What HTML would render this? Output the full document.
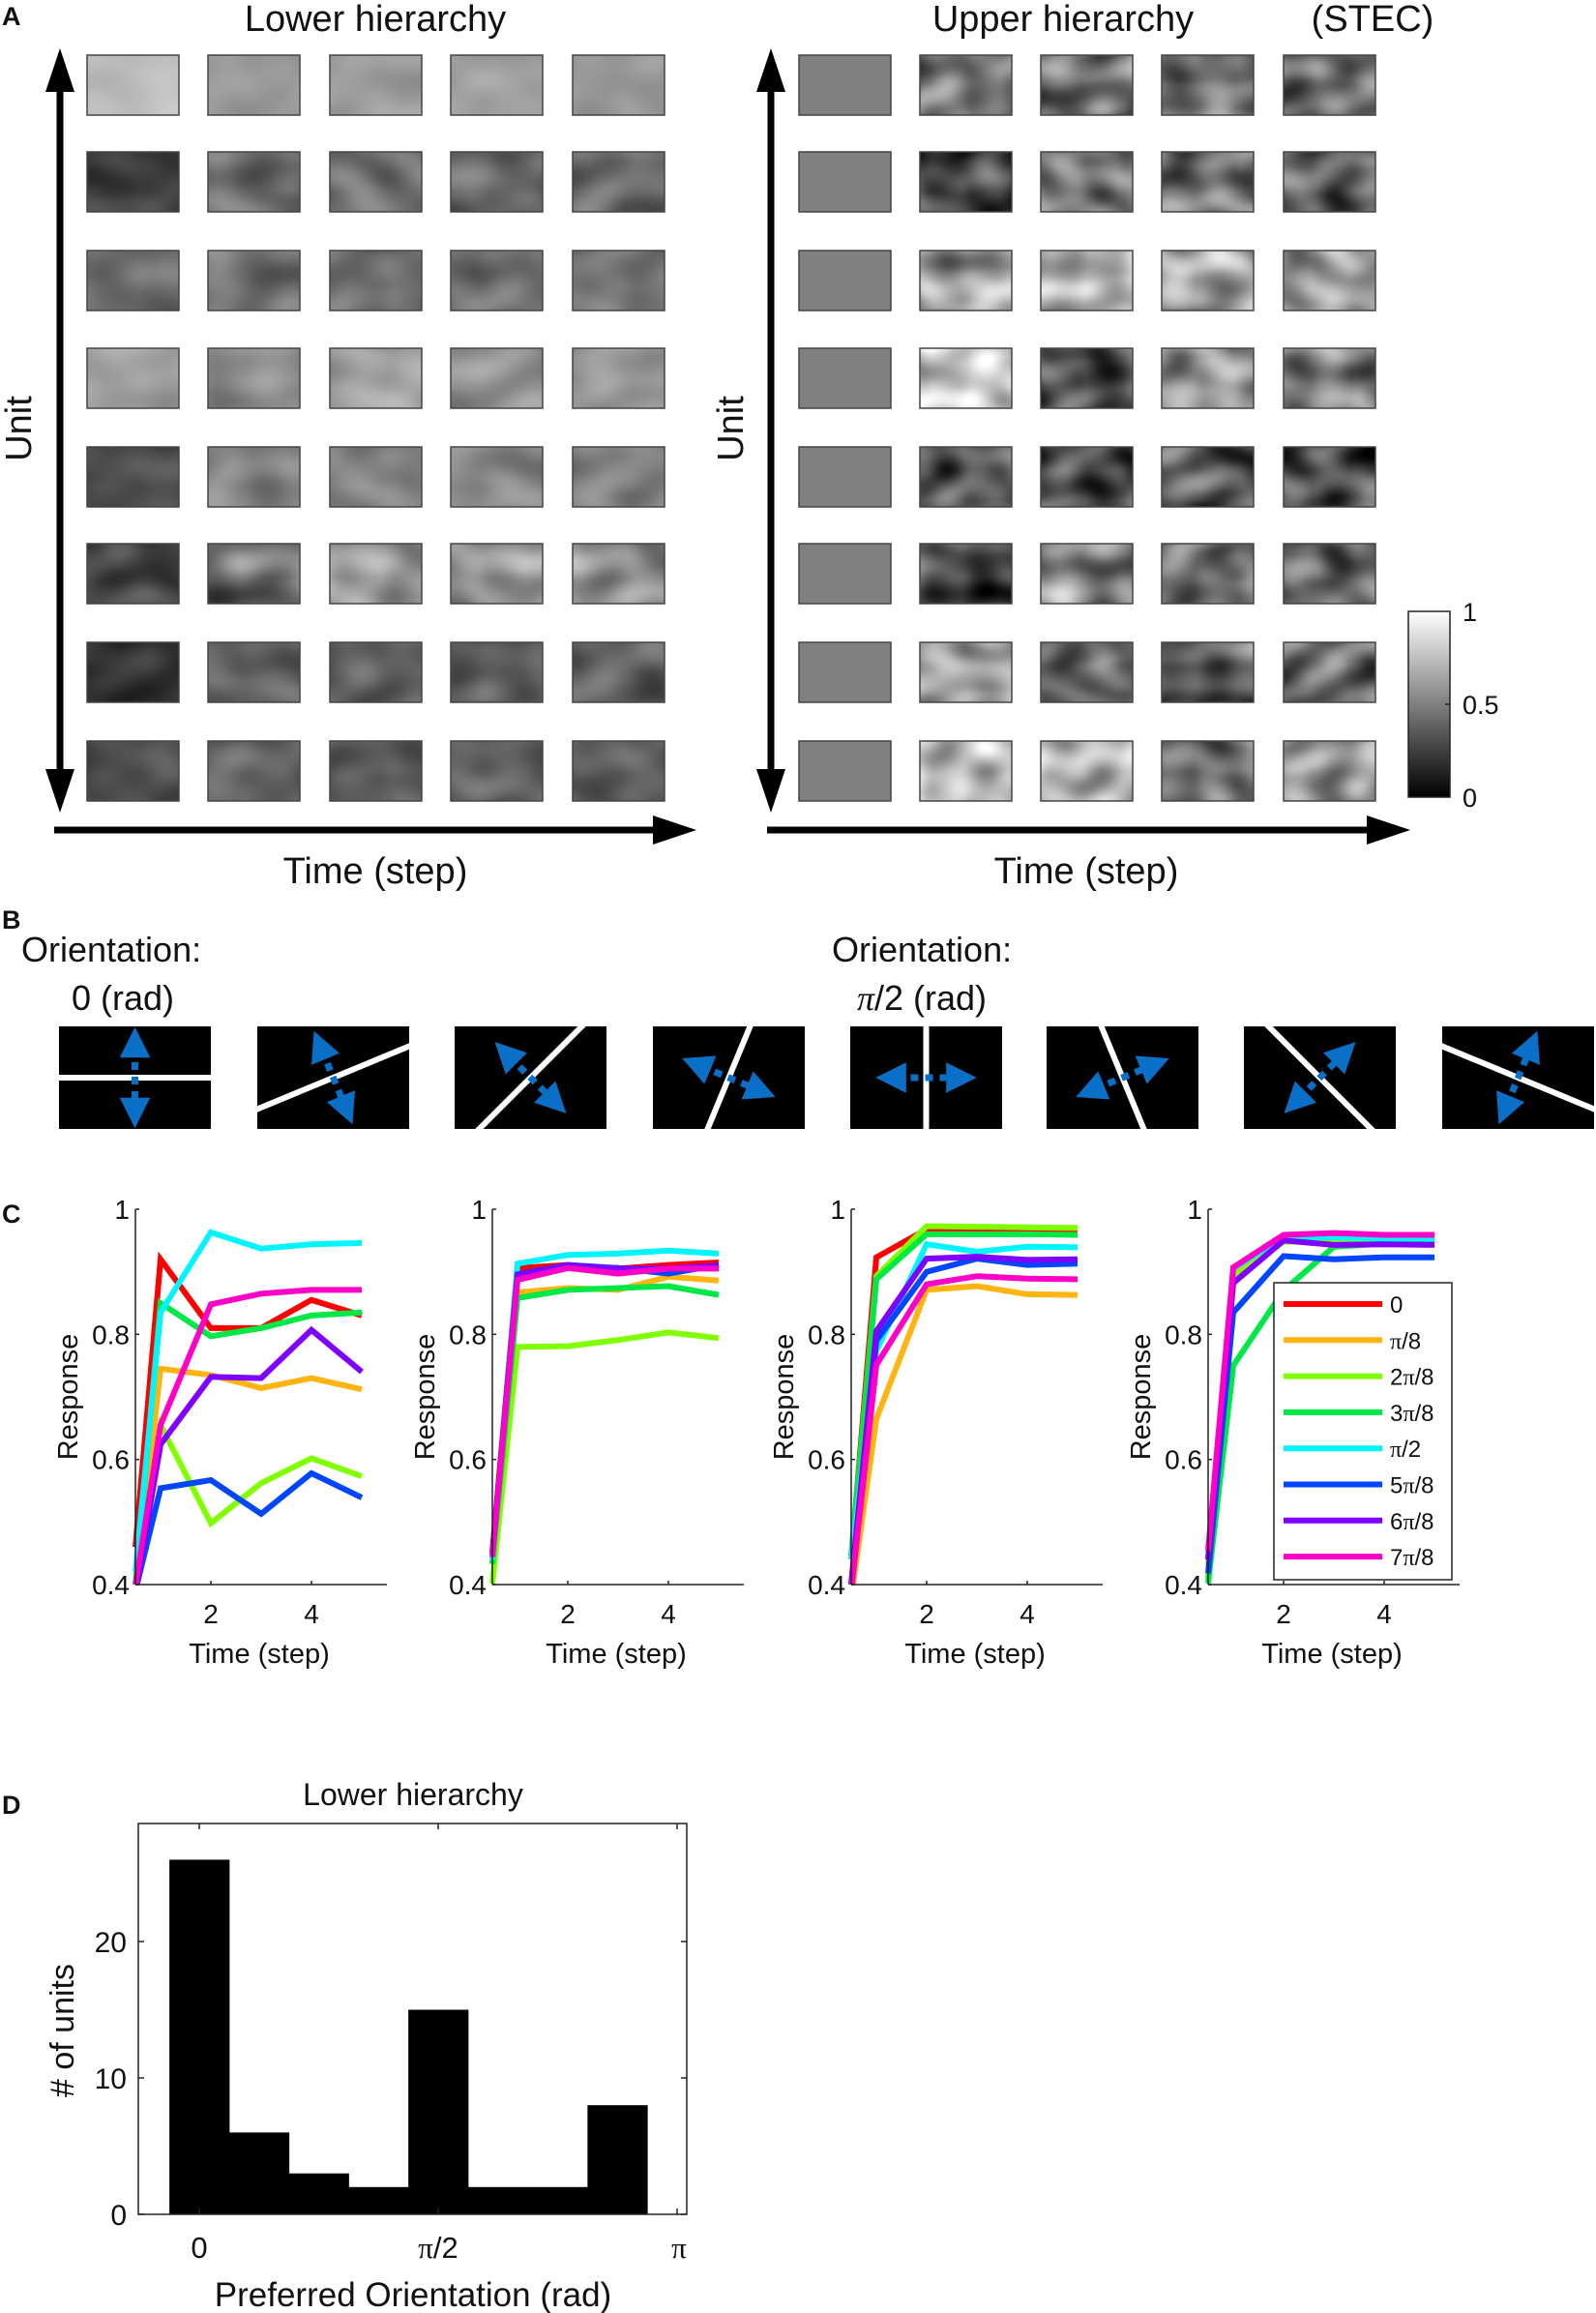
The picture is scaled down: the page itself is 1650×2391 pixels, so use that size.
<!DOCTYPE html>
<html><head><meta charset="utf-8">
<style>
html,body{margin:0;padding:0;background:#fff;}
svg{display:block;}
text{font-family:"Liberation Sans",sans-serif;fill:#111;}
.pi{font-family:"Liberation Serif",serif;}
</style></head>
<body>
<svg id="fig" width="1650" height="2391" viewBox="0 0 1650 2391" xmlns="http://www.w3.org/2000/svg">
<defs id="defs">
  <linearGradient id="cbar" x1="0" y1="1" x2="0" y2="0">
    <stop offset="0" stop-color="#000"/><stop offset="1" stop-color="#fff"/>
  </linearGradient>
  <marker id="ahead" viewBox="0 0 10 10" refX="2" refY="5" markerWidth="4.5" markerHeight="4.5" orient="auto-start-reverse" markerUnits="strokeWidth">
    <path d="M0,0 L10,5 L0,10 z" fill="#0a6fc6"/>
  </marker>
</defs>

<!-- Panel A -->
<text x="2" y="26" font-size="27" font-weight="bold">A</text>
<text x="388" y="32" font-size="38" text-anchor="middle">Lower hierarchy</text>
<text x="1099" y="32" font-size="38" text-anchor="middle">Upper hierarchy</text>
<text x="1419" y="32" font-size="38" text-anchor="middle">(STEC)</text>
<g id="tilesLower"></g>
<g id="tilesUpper"></g>

<g>
  <line x1="62" y1="90" x2="62" y2="800" stroke="#000" stroke-width="7"/>
  <polygon points="62,50 47,95 77,95" fill="#000"/>
  <polygon points="62,840 47,795 77,795" fill="#000"/>
</g>
<g>
  <line x1="56" y1="858" x2="680" y2="858" stroke="#000" stroke-width="7"/>
  <polygon points="720,858 675,843 675,873" fill="#000"/>
</g>
<g>
  <line x1="797" y1="90" x2="797" y2="800" stroke="#000" stroke-width="7"/>
  <polygon points="797,50 782,95 812,95" fill="#000"/>
  <polygon points="797,840 782,795 812,795" fill="#000"/>
</g>
<g>
  <line x1="793" y1="858" x2="1418" y2="858" stroke="#000" stroke-width="7"/>
  <polygon points="1458,858 1413,843 1413,873" fill="#000"/>
</g>
<text transform="translate(32,443) rotate(-90)" font-size="38" text-anchor="middle">Unit</text>
<text transform="translate(768,443) rotate(-90)" font-size="38" text-anchor="middle">Unit</text>
<text x="388" y="913" font-size="38" text-anchor="middle">Time (step)</text>
<text x="1123" y="913" font-size="38" text-anchor="middle">Time (step)</text>
<g>
  <rect x="1456" y="632" width="43" height="192" fill="url(#cbar)" stroke="#222" stroke-width="1.5"/>
  <line x1="1494" y1="728" x2="1499" y2="728" stroke="#222" stroke-width="1.5"/>
  <text x="1512" y="642" font-size="27">1</text>
  <text x="1512" y="738" font-size="27">0.5</text>
  <text x="1512" y="834" font-size="27">0</text>
</g>

<!-- Panel B -->
<text x="2" y="960" font-size="27" font-weight="bold">B</text>
<text x="22" y="994" font-size="36">Orientation:</text>
<text x="127" y="1044" font-size="36" text-anchor="middle">0 (rad)</text>
<text x="860" y="994" font-size="36">Orientation:</text>
<text x="953" y="1044" font-size="36" text-anchor="middle"><tspan class="pi" font-style="italic">π</tspan>/2 (rad)</text>
<g id="stimuli"></g>

<!-- Panel C -->
<text x="2" y="1264" font-size="27" font-weight="bold">C</text>
<g id="panelC"></g>

<!-- Panel D -->
<text x="2" y="1875" font-size="27" font-weight="bold">D</text>
<g id="panelD"></g>
</svg>

<script>
// ---------- Panel C data ----------
const timeSteps = [0.5, 1, 2, 3, 4, 5];
const orientLabels = ["0", "π/8", "2π/8", "3π/8", "π/2", "5π/8", "6π/8", "7π/8"];
const orientColors = ["#ff0000", "#ffb40f", "#80ff00", "#00e845", "#00f5ff", "#0046ff", "#8000ff", "#ff00c8"];
const yTicksC = [0.4, 0.6, 0.8, 1];
const xTicksC = [2, 4];
const plot1Resp = [
  [0.46, 0.92, 0.81, 0.81, 0.855, 0.83],
  [0.39, 0.745, 0.735, 0.714, 0.73, 0.712],
  [0.40, 0.655, 0.498, 0.562, 0.602, 0.573],
  [0.40, 0.85, 0.797, 0.81, 0.83, 0.835],
  [0.42, 0.835, 0.963, 0.937, 0.944, 0.946],
  [0.39, 0.554, 0.567, 0.513, 0.578, 0.539],
  [0.39, 0.624, 0.732, 0.73, 0.807, 0.74],
  [0.397, 0.655, 0.848, 0.865, 0.871, 0.871]
];
const plot2Resp = [
  [0.45, 0.906, 0.911, 0.905, 0.911, 0.915],
  [0.45, 0.867, 0.874, 0.871, 0.892, 0.886],
  [0.402, 0.78, 0.781, 0.791, 0.803, 0.794],
  [0.433, 0.858, 0.871, 0.874, 0.877, 0.863],
  [0.44, 0.913, 0.927, 0.929, 0.934, 0.929],
  [0.45, 0.896, 0.911, 0.906, 0.897, 0.911],
  [0.45, 0.895, 0.91, 0.905, 0.905, 0.91],
  [0.444, 0.887, 0.906, 0.897, 0.905, 0.905]
];
const plot3Resp = [
  [0.44, 0.923, 0.968, 0.966, 0.965, 0.966],
  [0.38, 0.665, 0.871, 0.877, 0.864, 0.863],
  [0.44, 0.893, 0.973, 0.972, 0.971, 0.97],
  [0.446, 0.888, 0.96, 0.96, 0.96, 0.959],
  [0.44, 0.774, 0.944, 0.932, 0.94, 0.939],
  [0.40, 0.79, 0.90, 0.921, 0.911, 0.913],
  [0.40, 0.805, 0.921, 0.924, 0.919, 0.92],
  [0.39, 0.751, 0.88, 0.893, 0.889, 0.888]
];
const plot4Resp = [
  [0.44, 0.90, 0.955, 0.955, 0.952, 0.952],
  [0.43, 0.895, 0.95, 0.952, 0.95, 0.95],
  [0.41, 0.89, 0.948, 0.948, 0.946, 0.946],
  [0.402, 0.75, 0.87, 0.94, 0.945, 0.945],
  [0.44, 0.905, 0.955, 0.955, 0.953, 0.953],
  [0.418, 0.835, 0.925, 0.92, 0.923, 0.923],
  [0.44, 0.882, 0.95, 0.943, 0.944, 0.943],
  [0.454, 0.907, 0.959, 0.962, 0.959, 0.959]
];
// ---------- Panel D data ----------
const histBinIndex = [0, 1, 2, 3, 4, 5, 6, 7];
const histCounts = [26, 6, 3, 2, 15, 2, 2, 8];
const histYTicks = [0, 10, 20];
const histXTickLabels = ["0", "π/2", "π"];
const histXTickValues = [0, Math.PI / 2, Math.PI];

const NS = "http://www.w3.org/2000/svg";
function mk(tag, attrs, parent) {
  const e = document.createElementNS(NS, tag);
  for (const k in attrs) e.setAttribute(k, attrs[k]);
  if (parent) parent.appendChild(e);
  return e;
}

// ---------- Panel A tiles ----------
const defs = document.getElementById('defs');
const lowerCols = [90, 215, 341, 466, 592];
const upperCols = [826, 951, 1076, 1201, 1327];
const rowTops = [57, 157, 259, 360, 462, 562, 664, 766];
const lowerBase = [[0.74,0.6,0.62,0.62,0.6],[0.24,0.42,0.42,0.42,0.42],[0.42,0.45,0.45,0.43,0.45],[0.64,0.56,0.62,0.57,0.58],[0.3,0.5,0.52,0.52,0.52],[0.24,0.45,0.58,0.55,0.55],[0.2,0.38,0.36,0.36,0.38],[0.3,0.38,0.37,0.36,0.37]];
const lowerContrast = [0.25,0.6,0.55,0.45,0.5,0.9,0.55,0.55];
const upperBase = [[0.5,0.45,0.42,0.44,0.4],[0.5,0.24,0.45,0.45,0.38],[0.5,0.66,0.66,0.62,0.6],[0.5,0.78,0.3,0.6,0.5],[0.5,0.34,0.3,0.34,0.28],[0.5,0.3,0.52,0.42,0.4],[0.5,0.66,0.38,0.36,0.42],[0.5,0.76,0.72,0.4,0.56]];
let fid = 0;
function tile(parent, x, y, base, contrast, seed, freq, name) {
  const g = mk('g', {}, parent);
  
  
  if (contrast > 0) {
    const id = 'f' + (fid++);
    const f = mk('filter', {id: id, x: 0, y: 0, width: 1, height: 1, 'color-interpolation-filters': 'sRGB'}, defs);
    mk('feTurbulence', {type: 'fractalNoise', baseFrequency: freq, numOctaves: 1, seed: seed, result: 't'}, f);
    const c = contrast, o = base - c * 0.5;
    mk('feColorMatrix', {type: 'matrix', values: `${c} 0 0 0 ${o}  ${c} 0 0 0 ${o}  ${c} 0 0 0 ${o}  0 0 0 0 1`}, f);
    mk('rect', {x: x, y: y, width: 95, height: 62, filter: 'url(#' + id + ')'}, g);
  } else {
    const v = Math.round(base * 255);
    mk('rect', {x: x, y: y, width: 95, height: 62, fill: `rgb(${v},${v},${v})`}, g);
  }
  mk('rect', {x: x, y: y, width: 95, height: 62, fill: 'none', stroke: '#444', 'stroke-width': 1.5}, g);
}
const gl = document.getElementById('tilesLower'), gu = document.getElementById('tilesUpper');
rowTops.forEach((ry, r) => {
  lowerCols.forEach((cx, c) => tile(gl, cx, ry, lowerBase[r][c], lowerContrast[r] * (c === 0 ? 0.7 : 1), 10 + r * 3 + (c ? 1 : 0), '0.02 0.03', `lower-tile-r${r+1}-c${c+1}`));
  upperCols.forEach((cx, c) => tile(gu, cx, ry, upperBase[r][c], c === 0 ? 0 : 1.1, 40 + r * 7 + c, '0.025 0.035', `upper-tile-r${r+1}-c${c+1}`));
});

// ---------- Panel B stimuli ----------
const stimAngles = [0, 22.5, 45, 67.5, 90, 112.5, 135, 157.5];
const stimX = [61, 266, 470, 675, 879, 1082, 1286, 1491];
const gs = document.getElementById('stimuli');
stimAngles.forEach((a, i) => {
  const g = mk('g', {}, gs);
  
  
  const x = stimX[i], y = 1061, w = 157, h = 106, cx = x + w / 2, cy = y + h / 2;
  const cid = 'sc' + i;
  const cp = mk('clipPath', {id: cid}, defs);
  mk('rect', {x: x, y: y, width: w, height: h}, cp);
  mk('rect', {x: x, y: y, width: w, height: h, fill: '#000'}, g);
  const t = a * Math.PI / 180, dx = Math.cos(t), dy = -Math.sin(t);
  mk('line', {x1: cx - dx * 200, y1: cy - dy * 200, x2: cx + dx * 200, y2: cy + dy * 200, stroke: '#fff', 'stroke-width': 6, 'clip-path': `url(#${cid})`}, g);
  const px = -dy, py = dx, L = 27;
  mk('line', {x1: cx - px * L, y1: cy - py * L, x2: cx + px * L, y2: cy + py * L, stroke: '#0a6fc6', 'stroke-width': 7, 'stroke-dasharray': '8 7', 'stroke-dashoffset': 4, 'marker-start': 'url(#ahead)', 'marker-end': 'url(#ahead)'}, g);
});

// ---------- Panel C plots ----------
const plotLefts = [140, 509, 880, 1249];
const plotData = [plot1Resp, plot2Resp, plot3Resp, plot4Resp];
const cTop = 1250, cBot = 1638, cW = 260;
const gc = document.getElementById('panelC');
plotData.forEach((series, p) => {
  const L = plotLefts[p];
  const xS = v => L + (v - 0.5) * (cW / 5);
  const yS = v => cBot - (v - 0.4) / 0.6 * (cBot - cTop);
  const g = mk('g', {}, gc);
  
  
  const cid = 'cc' + p;
  const cp = mk('clipPath', {id: cid}, defs);
  mk('rect', {x: L - 4, y: cTop - 4, width: cW + 8, height: cBot - cTop + 4}, cp);
  series.forEach((vals, s) => {
    const pts = vals.map((v, i) => xS(timeSteps[i]).toFixed(1) + ',' + yS(v).toFixed(1)).join(' ');
    const pl = mk('polyline', {points: pts, fill: 'none', stroke: orientColors[s], 'stroke-width': 6, 'stroke-linejoin': 'miter', 'clip-path': `url(#${cid})`}, g);
    
    
  });
  mk('line', {x1: L, y1: cTop, x2: L, y2: cBot, stroke: '#222', 'stroke-width': 1.5}, g);
  mk('line', {x1: L, y1: cBot, x2: L + cW, y2: cBot, stroke: '#222', 'stroke-width': 1.5}, g);
  yTicksC.forEach(v => {
    mk('line', {x1: L, y1: yS(v), x2: L + 4, y2: yS(v), stroke: '#222', 'stroke-width': 1.5}, g);
    const t = mk('text', {x: L - 6, y: yS(v) + 10, 'font-size': 28, 'text-anchor': 'end'}, g);
    t.textContent = String(v);
    
    
  });
  xTicksC.forEach(v => {
    mk('line', {x1: xS(v), y1: cBot, x2: xS(v), y2: cBot - 4, stroke: '#222', 'stroke-width': 1.5}, g);
    const t = mk('text', {x: xS(v), y: cBot + 40, 'font-size': 28, 'text-anchor': 'middle'}, g);
    t.textContent = String(v);
    
    
  });
  const yl = mk('text', {transform: `translate(${L - 60},${(cTop + cBot) / 2}) rotate(-90)`, 'font-size': 29, 'text-anchor': 'middle'}, g);
  yl.textContent = 'Response';
  
  
  const xl = mk('text', {x: L + 128, y: cBot + 81, 'font-size': 29, 'text-anchor': 'middle'}, g);
  xl.textContent = 'Time (step)';
  
  
});
const lg = mk('g', {}, gc);


mk('rect', {x: 1317, y: 1326, width: 184, height: 307, fill: '#fff', stroke: '#222', 'stroke-width': 1.5}, lg);
orientLabels.forEach((lab, i) => {
  const y = 1348 + i * 37.3;
  const e = mk('g', {}, lg);
  
  
  mk('line', {x1: 1327, y1: y, x2: 1429, y2: y, stroke: orientColors[i], 'stroke-width': 6}, e);
  const t = mk('text', {x: 1437, y: y + 9, 'font-size': 24}, e);
  lab.split('').forEach(ch => {
    const sp = mk('tspan', {}, t);
    if (ch === 'π') sp.setAttribute('class', 'pi');
    sp.textContent = ch;
  });
});

// ---------- Panel D histogram ----------
const gd = document.getElementById('panelD');
const dL = 143, dR = 710, dT = 1885, dB = 2289;
const hx = v => 206 + v * (247 / (Math.PI / 2));
const hy = c => dB - c * 14.1;
histBinIndex.forEach((k, i) => {
  const c0 = k * Math.PI / 8;
  const r = mk('rect', {x: hx(c0 - Math.PI / 16), y: hy(histCounts[i]), width: hx(c0 + Math.PI / 16) - hx(c0 - Math.PI / 16) + 0.5, height: dB - hy(histCounts[i]), fill: '#000'}, gd);
  
  
});
mk('rect', {x: dL, y: dT, width: dR - dL, height: dB - dT, fill: 'none', stroke: '#222', 'stroke-width': 1.5}, gd);
histYTicks.forEach(v => {
  mk('line', {x1: dL, y1: hy(v), x2: dL + 6, y2: hy(v), stroke: '#222', 'stroke-width': 1.5}, gd);
  mk('line', {x1: dR, y1: hy(v), x2: dR - 6, y2: hy(v), stroke: '#222', 'stroke-width': 1.5}, gd);
  const t = mk('text', {x: dL - 12, y: hy(v) + 11, 'font-size': 30, 'text-anchor': 'end'}, gd);
  t.textContent = String(v);
  
  
});
histXTickValues.forEach((v, i) => {
  mk('line', {x1: hx(v), y1: dB, x2: hx(v), y2: dB - 6, stroke: '#222', 'stroke-width': 1.5}, gd);
  mk('line', {x1: hx(v), y1: dT, x2: hx(v), y2: dT + 6, stroke: '#222', 'stroke-width': 1.5}, gd);
  const t = mk('text', {x: hx(v) + (i === 2 ? 2 : 0), y: dB + 45, 'font-size': 31, 'text-anchor': 'middle'}, gd);
  histXTickLabels[i].split('').forEach(ch => {
    const sp = mk('tspan', {}, t);
    if (ch === 'π') sp.setAttribute('class', 'pi');
    sp.textContent = ch;
  });
  
  
});
const dt = mk('text', {x: 427, y: 1866, 'font-size': 32, 'text-anchor': 'middle'}, gd);
dt.textContent = 'Lower hierarchy';


const dyl = mk('text', {transform: `translate(76,${(dT + dB) / 2 + 12}) rotate(-90)`, 'font-size': 34, 'text-anchor': 'middle'}, gd);
dyl.textContent = '# of units';


const dxl = mk('text', {x: 427, y: 2384, 'font-size': 35, 'text-anchor': 'middle'}, gd);
dxl.textContent = 'Preferred Orientation (rad)';


</script>
</body></html>
